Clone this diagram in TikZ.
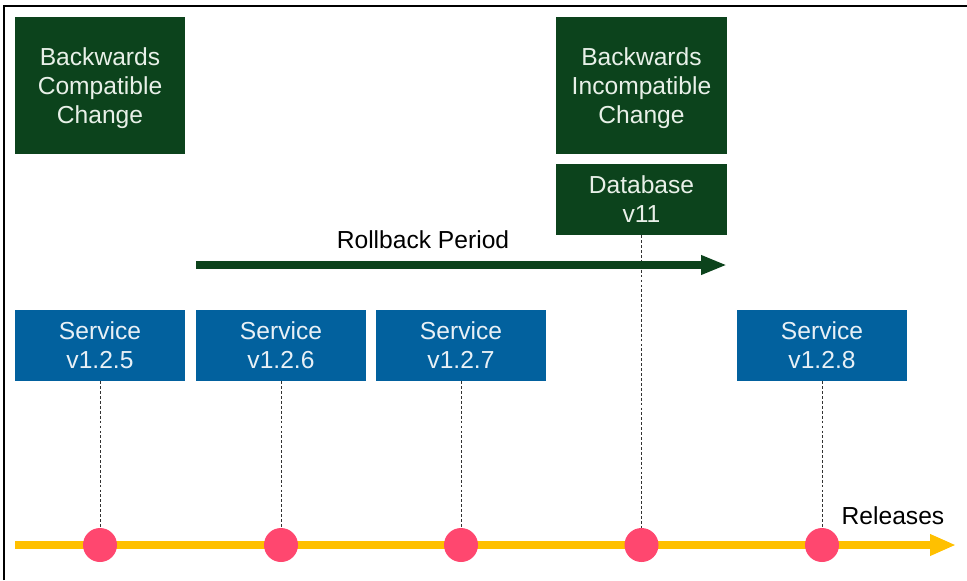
\documentclass[tikz,border=0pt]{standalone}
\usepackage{fontspec}
\setmainfont{Liberation Sans}
\usetikzlibrary{arrows.meta}

\begin{document}
\begin{tikzpicture}[x=0.025cm,y=-0.025cm,font=\fontsize{17.5}{20.6}\selectfont,
  chgbox/.style={fill={rgb,255:red,12;green,67;blue,28},text={rgb,255:red,232;green,240;blue,232},align=center,minimum width=4.25cm,inner sep=0pt},
  svcbox/.style={fill={rgb,255:red,2;green,97;blue,158},text={rgb,255:red,232;green,240;blue,246},align=center,minimum width=4.25cm,minimum height=1.775cm,inner sep=0pt},
  relpt/.style={circle,fill={rgb,255:red,255;green,71;blue,111},minimum size=0.85cm,inner sep=0pt},
  relline/.style={dashed,dash pattern=on 2pt off 1.5pt,line width=0.6pt,draw={rgb,255:red,50;green,50;blue,50}}]
\useasboundingbox (0,0) rectangle (967,580);
\fill[white] (0,0) rectangle (967,580);
\draw[line width=2pt] (4,580)--(4,6)--(967,6);
\node[chgbox,minimum height=3.425cm,text depth=-2pt] (bcc) at (100,85.5) {Backwards\\Compatible\\Change};
\node[chgbox,minimum height=3.425cm,text depth=-2pt] (bic) at (641.5,85.5) {Backwards\\Incompatible\\Change};
\node[chgbox,minimum height=1.775cm] (db) at (641.5,199.5) {Database\\v11};
\foreach \n/\x/\v in {1/100/5,2/281/6,3/461/7,4/822/8}{\node[svcbox] (s\n) at (\x,345.5) {Service\\v1.2.\v};}
% timeline
\coordinate (tls) at (15,545);
\coordinate (tle) at (956,545);
\draw[line width=5.6pt,draw={rgb,255:red,255;green,192;blue,0},-{Triangle[length=0.65cm,width=0.5cm]}] (tls) -- (tle);
\node[anchor=base] (rel) at (893,524) {Releases};
\foreach \n/\x in {1/100,2/281,3/461,4/641.5,5/822}{\node[relpt] (r\n) at (\x,545) {};}
\foreach \n/\m in {1/1,2/2,3/3,4/5}{\draw[relline] (s\n.south) -- (r\m);}
\draw[relline] (db.south) -- (r4);
% rollback
\node[anchor=base] (rbl) at (423,248) {Rollback Period};
\coordinate (rbs) at (196,265);
\coordinate (rbe) at (727,265);
\draw[line width=5pt,draw={rgb,255:red,12;green,67;blue,28},-{Triangle[length=0.65cm,width=0.45cm]}] (rbs) -- (rbe);
\end{tikzpicture}
\end{document}
